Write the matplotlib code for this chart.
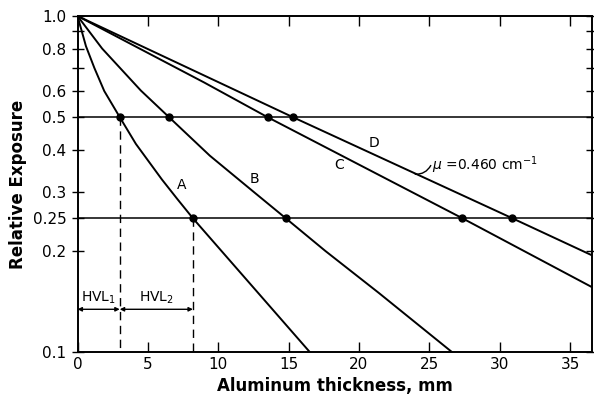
import matplotlib
matplotlib.use("Agg")
import matplotlib.pyplot as plt
from matplotlib.ticker import FixedLocator, NullFormatter

# curves (thickness in mm, relative exposure)
a_x = [0, 0.6, 1.2, 1.9, 3.0, 4.15, 6.0, 7.1, 8.2, 16.5]
a_y = [1.0, 0.813, 0.70, 0.598, 0.5, 0.416, 0.326, 0.285, 0.25, 0.1]
b_x = [0, 1.75, 4.5, 6.5, 9.4, 12.5, 14.8, 17.6, 21.4, 26.6]
b_y = [1.0, 0.8, 0.6, 0.5, 0.384, 0.3, 0.25, 0.2, 0.15, 0.1]
c_x = [0, 9.0, 13.5, 27.35, 36.55]
c_y = [1.0, 0.634, 0.5, 0.25, 0.156]
d_x = [0, 15.3, 30.9, 36.55]
d_y = [1.0, 0.5, 0.25, 0.194]

half_x = [3.0, 6.5, 13.5, 15.3]       # where each curve crosses 0.5
quarter_x = [8.2, 14.8, 27.35, 30.9]  # where each curve crosses 0.25

ytick_vals = [1.0, 0.8, 0.6, 0.5, 0.4, 0.3, 0.25, 0.2, 0.1]
ytick_labels = ["1.0", "0.8", "0.6", "0.5", "0.4", "0.3", "0.25", "0.2", "0.1"]
xtick_vals = [0, 5, 10, 15, 20, 25, 30, 35]

plt.rcParams["font.family"] = "DejaVu Sans"

fig = plt.figure(figsize=(5.94, 4.0), dpi=100)
ax = fig.add_axes([0.1305, 0.12, 0.866, 0.84])

ax.set_yscale("log")
ax.set_xlim(0, 36.55)
ax.set_ylim(0.1, 1.0)

lw = 1.4
for xs, ys in [(a_x, a_y), (b_x, b_y), (c_x, c_y), (d_x, d_y)]:
    ax.plot(xs, ys, color="black", lw=lw, solid_joinstyle="round")

ax.axhline(0.5, color="black", lw=1.1)
ax.axhline(0.25, color="black", lw=1.1)

ax.plot(half_x, [0.5] * len(half_x), "o", color="black", ms=5)
ax.plot(quarter_x, [0.25] * len(quarter_x), "o", color="black", ms=5)

# dashed drop lines for HVL of curve A
ax.plot([half_x[0], half_x[0]], [0.5, 0.1], color="black", lw=1.0, ls=(0, (6, 4)))
ax.plot([quarter_x[0], quarter_x[0]], [0.25, 0.1], color="black", lw=1.0, ls=(0, (6, 4)))

ax.annotate("", xy=(0, 0.134), xytext=(half_x[0], 0.134),
            arrowprops=dict(arrowstyle="<|-|>", color="black", lw=1.0,
                            mutation_scale=6, shrinkA=0, shrinkB=0))
ax.annotate("", xy=(half_x[0], 0.134), xytext=(quarter_x[0], 0.134),
            arrowprops=dict(arrowstyle="<|-|>", color="black", lw=1.0,
                            mutation_scale=6, shrinkA=0, shrinkB=0))
ax.text(1.5, 0.145, "HVL$_1$", ha="center", va="center", fontsize=10)
ax.text(5.6, 0.145, "HVL$_2$", ha="center", va="center", fontsize=10)

ax.text(7.4, 0.313, "A", ha="center", va="center", fontsize=10)
ax.text(12.6, 0.328, "B", ha="center", va="center", fontsize=10)
ax.text(18.6, 0.361, "C", ha="center", va="center", fontsize=10)
ax.text(21.1, 0.42, "D", ha="center", va="center", fontsize=10)

# mu label with a short curved leader to line D
ax.text(25.2, 0.359, r"$\mu$ =0.460 cm$^{-1}$", ha="left", va="center", fontsize=10)
ax.annotate("", xy=(24.0, 0.338), xytext=(25.1, 0.359),
            arrowprops=dict(arrowstyle="-", color="black", lw=1.0,
                            connectionstyle="arc3,rad=-0.3", shrinkA=0, shrinkB=0))

ax.yaxis.set_major_locator(FixedLocator(ytick_vals))
ax.set_yticklabels(ytick_labels)
ax.yaxis.set_minor_locator(FixedLocator([0.9, 0.7]))
ax.yaxis.set_minor_formatter(NullFormatter())
ax.set_xticks(xtick_vals)

ax.tick_params(axis="y", which="both", direction="inout", length=9, width=1.0,
               right=True, labelsize=11)
ax.tick_params(axis="x", direction="in", length=7, width=1.0, top=True, labelsize=11)
for s in ax.spines.values():
    s.set_linewidth(1.4)

ax.set_xlabel("Aluminum thickness, mm", fontsize=12, fontweight="bold")
ax.set_ylabel("Relative Exposure", fontsize=12, fontweight="bold")

fig.savefig("out.png", dpi=100)
